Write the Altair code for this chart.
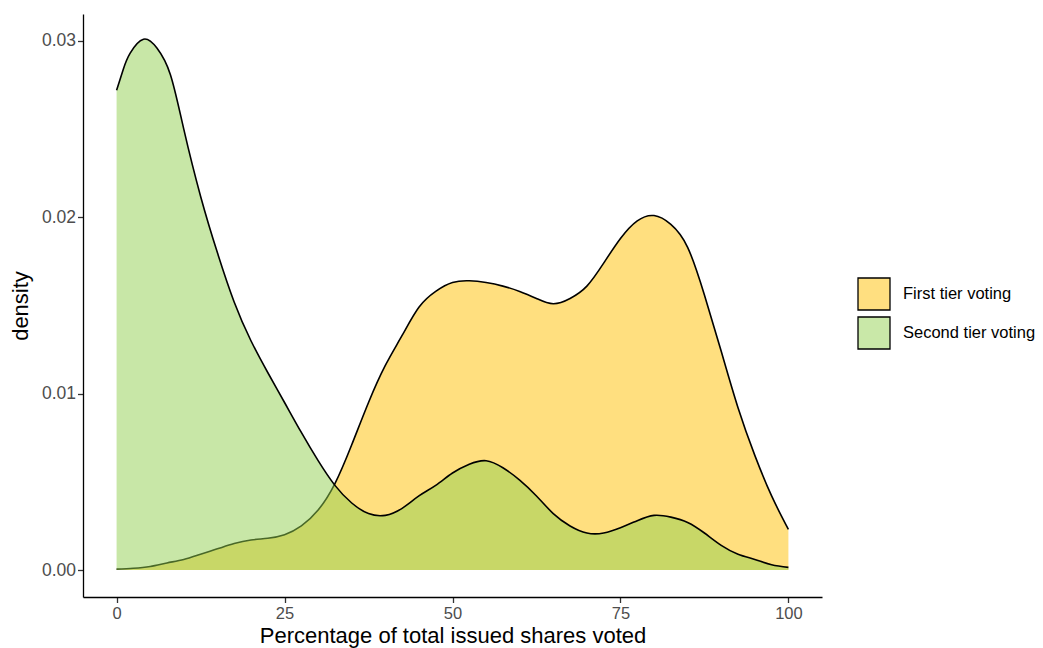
import altair as alt
import pandas as pd

# ---- data ----
tiers = ["First tier voting", "Second tier voting"]

first_x = [0, 2.5, 5, 7.5, 10, 12.5, 15, 17.5, 20, 22.5, 25, 27.5, 30, 32.5, 35, 37.5,
           40, 42.5, 45, 47.5, 50, 52.5, 55, 57.5, 60, 62.5, 65, 67.5, 70, 72.5, 75,
           77.5, 80, 82.5, 85, 87.5, 90, 92.5, 95, 97.5, 100]
first_y = [0.00005, 0.0001, 0.0002, 0.0004, 0.0006, 0.0009, 0.0012, 0.0015, 0.0017, 0.0018,
           0.0020, 0.0025, 0.0034, 0.0049, 0.0071, 0.0095, 0.0116, 0.0133, 0.0149, 0.0158,
           0.0163, 0.0164, 0.0163, 0.0161, 0.0158, 0.0154, 0.0151, 0.0154, 0.0161, 0.0174,
           0.0188, 0.0198, 0.0201, 0.0196, 0.0183, 0.0156, 0.0124, 0.0092, 0.0065, 0.0042,
           0.0023]

second_x = [0, 1, 2, 4, 6, 8, 10, 12.5, 15, 17.5, 20, 22.5, 25, 27.5, 30, 32.5, 35, 37.5,
            40, 42.5, 45, 47.5, 50, 52.5, 55, 57.5, 60, 62.5, 65, 67.5, 70, 72.5, 75,
            77.5, 80, 82.5, 85, 87.5, 90, 92.5, 95, 97.5, 100]
second_y = [0.0272, 0.0284, 0.0293, 0.0301, 0.0296, 0.0281, 0.0250, 0.0212, 0.0180, 0.0152,
            0.0130, 0.0112, 0.0095, 0.0078, 0.0062, 0.0048, 0.0038, 0.0032, 0.0031, 0.0035,
            0.0042, 0.0048, 0.0055, 0.0060, 0.0062, 0.0058, 0.0051, 0.0042, 0.0032, 0.0025,
            0.0021, 0.0021, 0.0024, 0.0028, 0.0031, 0.0030, 0.0027, 0.0021, 0.0014, 0.0009,
            0.0006, 0.0003, 0.00015]

x_ticks = [0, 25, 50, 75, 100]
y_ticks = [0.0, 0.01, 0.02, 0.03]

tier_fills = ["#FFC000", "#92D050"]
legend_fills = ["#FFDF80", "#C9E8A8"]

FONT = "Liberation Sans"
W, H = 739, 583
CURVE = "natural"

df1 = pd.DataFrame({"x": first_x, "y": first_y, "tier": tiers[0]})
df2 = pd.DataFrame({"x": second_x, "y": second_y, "tier": tiers[1]})
legend_df = pd.DataFrame({"x": [0, 0], "y": [0, 0], "tier": tiers})

x_enc = alt.X(
    "x:Q",
    scale=alt.Scale(domain=[-5, 105], nice=False, zero=False),
    axis=alt.Axis(
        values=x_ticks, title="Percentage of total issued shares voted", grid=False,
        domainColor="black", domainWidth=1.3, tickColor="#333333", tickWidth=1.3,
        tickSize=5.5, labelColor="#4D4D4D", labelFontSize=16.5, labelFont=FONT,
        labelPadding=3, labelFlush=False, titleFont=FONT, titleFontSize=22,
        titleFontWeight="normal", titleColor="black", titleBaseline="alphabetic",
        titleAnchor="middle", titleAlign="center", titleX=W / 2, titleY=45,
    ),
)
y_enc = alt.Y(
    "y:Q",
    scale=alt.Scale(domain=[-0.00153, 0.03153], nice=False, zero=False),
    axis=alt.Axis(
        values=y_ticks, format=".2f", title="density", grid=False,
        domainColor="black", domainWidth=1.3, tickColor="#333333", tickWidth=1.3,
        tickSize=5.5, labelColor="#4D4D4D", labelFontSize=17.5, labelFont=FONT,
        labelPadding=2, titleFont=FONT, titleFontSize=22, titleFontWeight="normal",
        titleColor="black", titleAngle=270, titleBaseline="alphabetic",
        titleAlign="center", titleX=-56, titleY=H / 2,
    ),
)


def area(df, fill):
    return alt.Chart(df).mark_area(
        fill=fill, fillOpacity=0.5, interpolate=CURVE
    ).encode(x=x_enc, y=y_enc, y2=alt.datum(0))


def outline(df):
    return alt.Chart(df).mark_line(
        color="black", strokeWidth=1.6, interpolate=CURVE
    ).encode(x=x_enc, y=y_enc)


legend_layer = alt.Chart(legend_df).mark_area(
    opacity=1, stroke="black", strokeWidth=1.3
).encode(
    x=x_enc,
    y=y_enc,
    fill=alt.Fill(
        "tier:N",
        scale=alt.Scale(domain=tiers, range=legend_fills),
        legend=alt.Legend(
            title=None, orient="none", legendX=774, legendY=263, padding=0,
            symbolType="square", symbolSize=1024, symbolStrokeColor="black",
            symbolStrokeWidth=1.3, symbolOpacity=1, labelFont=FONT,
            labelFontSize=16.5, labelColor="black", labelOffset=12, rowPadding=1,
        ),
    ),
)

chart = alt.layer(
    area(df1, tier_fills[0]),
    outline(df1),
    area(df2, tier_fills[1]),
    outline(df2),
    legend_layer,
).properties(
    width=W,
    height=H,
    autosize=alt.AutoSizeParams(type="none"),
    padding={"left": 75, "top": 6, "right": 213, "bottom": 51},
).configure(
    font=FONT, background="white"
).configure_view(
    stroke="transparent"
)

chart.save("out.html", embed_options={"renderer": "svg", "actions": False})
